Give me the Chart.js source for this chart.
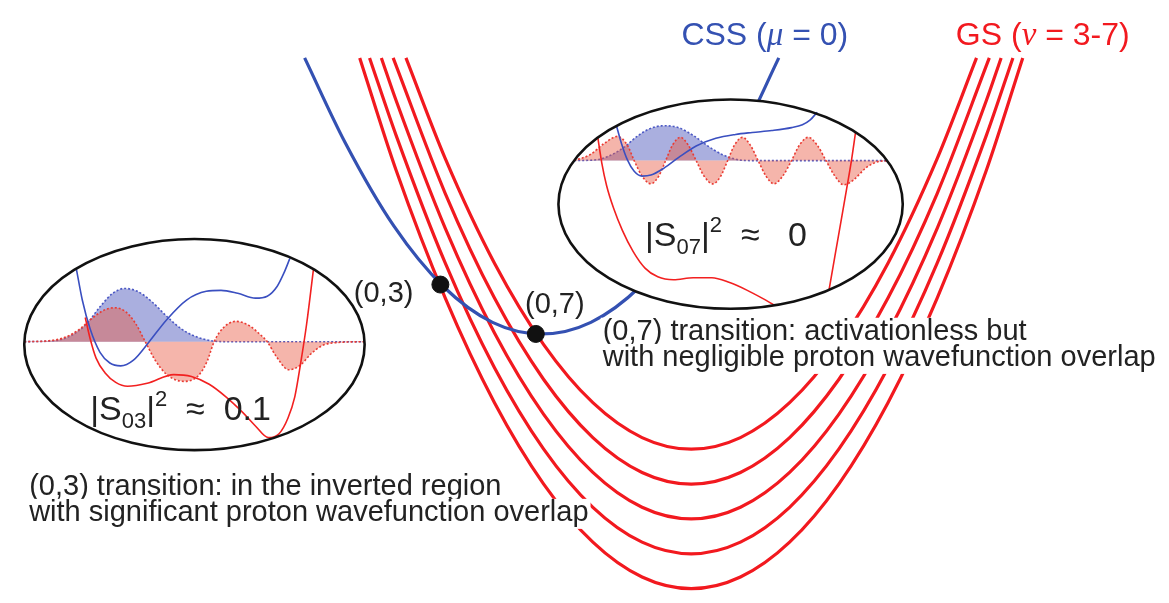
<!DOCTYPE html>
<html><head><meta charset="utf-8">
<script src="https://cdn.jsdelivr.net/npm/chart.js@4.4.1/dist/chart.umd.min.js"></script>
<style>html,body{margin:0;padding:0;background:#fff;overflow:hidden}canvas{display:block}</style>
</head><body>
<canvas id="c" width="1169" height="603"></canvas>
<script>
// ---------- data (diagram units) ----------
// GS diabatic curves, nu = 3 .. 7 (outer -> inner)
const gsV3 = [[356,50],[393,166],[443,298],[493,406],[543,490],[593,550],[643,586],[693,598],[743,586],[793,550],[843,490],[893,406],[943,298],[993,166],[1030,50]];
const gsV4 = [[366,50],[393,130],[443,262],[493,370],[543,454],[593,514],[643,550],[693,562],[743,550],[793,514],[843,454],[893,370],[943,262],[993,130],[1020,50]];
const gsV5 = [[378,50],[393,94],[443,226],[493,334],[543,418],[593,478],[643,514],[693,526],[743,514],[793,478],[843,418],[893,334],[943,226],[993,94],[1008,50]];
const gsV6 = [[390,50],[443,190],[493,298],[543,382],[593,442],[643,478],[693,490],[743,478],[793,442],[843,382],[893,298],[943,190],[996,50]];
const gsV7 = [[403,50],[443,154],[493,262],[543,346],[593,406],[643,442],[693,454],[743,442],[793,406],[843,346],[893,262],[943,154],[983,50]];
// CSS diabatic curve (mu = 0)
const cssMain = [[300,50],[341,137],[391,224],[441,286],[491,323],[541,335],[591,323],[641,286],[691,224],[741,137],[782,50]];
// crossing points
const crossings = [[438,284],[535,335]];
const crossLabels = ['(0,3)','(0,7)'];

// inset frames [cx, cy, rx, ry]
const insetFrames = [[188,346,173,109],[733,201,175,108]];
const leftBase = 343, rightBase = 156;

// left inset: (0,3) transition
const leftPsiCSS = [[15,343],[45,342],[62,337],[78,325],[92,307],[105,293],[117,288],[130,291],[145,302],[160,317],[175,330],[190,338],[205,342],[220,343],[361,343]];
const leftPsiGS = [[15,343],[40,342],[55,339],[70,331],[85,318],[97,310],[107,308],[118,312],[128,324],[138,343],[148,362],[160,377],[177,384],[192,378],[201,363],[208,343],[217,329],[230,322],[243,326],[253,334],[262,343],[271,358],[284,372],[296,367],[306,356],[318,347],[332,344],[361,343]];
const leftVCSS = [[68,268],[74,300],[82,330],[92,354],[102,365],[113,368],[126,362],[142,343],[160,320],[180,300],[200,291],[215,290],[232,293],[250,298],[262,296],[272,286],[279,272],[285,257]];
const leftVGS = [[77,318],[82,340],[88,360],[97,375],[108,385],[120,389],[140,386],[167,377],[185,379],[203,387],[220,400],[237,416],[250,430],[263,442],[274,438],[283,422],[290,400],[296,365],[302,325],[309,268]];

// right inset: (0,7) transition
const rightPsiCSS = [[574,156],[598,155],[612,150],[625,142],[638,131],[651,123],[665,120],[680,122],[695,130],[710,141],[725,150],[740,155],[755,156],[892,156]];
const rightPsiGS = [[574,156],[590,150],[605,138],[618,131],[628,140],[635,156],[643,172],[652,180],[660,172],[667,156],[674,140],[682,132],[690,140],[698,156],[706,172],[715,180],[723,172],[730,156],[737,140],[745,132],[753,140],[761,156],[769,172],[777,180],[786,172],[795,156],[803,140],[812,132],[821,140],[830,156],[839,172],[848,181],[858,176],[870,164],[880,158],[892,156]];
const rightVCSS = [[617,120],[622,138],[628,155],[635,167],[643,172],[652,171],[665,164],[680,153],[698,141],[718,133],[738,129],[755,127],[775,125],[795,122],[806,119],[814,114],[821,106]];
const rightVGSa = [[598,132],[602,158],[607,182],[614,205],[623,228],[634,250],[646,267],[659,276],[675,279],[695,277],[714,277],[732,282],[750,290],[765,298],[777,305]];
const rightVGSb = [[833,290],[839,255],[845,220],[851,185],[856,155],[860,127]];

// text
const cssTitle = ['CSS (', 'μ', ' = 0)'];
const gsTitle = ['GS (', 'ν', ' = 3-7)'];
const note07 = ['(0,7) transition: activationless but', 'with negligible proton wavefunction overlap'];
const note03 = ['(0,3) transition: in the inverted region', 'with significant proton wavefunction overlap'];
const overlap03 = ['|S', '03', '|', '2', '  ≈  0.1'];
const overlap07 = ['|S', '07', '|', '2', '  ≈   0'];

// ---------- styling ----------
const RED = '#f2191f', BLUE = '#3451b2', INK = '#222';
const SANS = '"Liberation Sans", Arial, Helvetica, sans-serif';
const SERIF = '"Liberation Serif", "Times New Roman", serif';

const toXY = a => a.map(([x, y]) => ({x, y}));
function curve(data, color, width, order, extra) {
  return Object.assign({
    data: toXY(data), showLine: true, borderColor: color, borderWidth: width,
    pointRadius: 0, pointHoverRadius: 0, fill: false,
    cubicInterpolationMode: 'monotone', order: order
  }, extra || {});
}

const datasets = [
  curve(gsV3, RED, 3.2, 100), curve(gsV4, RED, 3.2, 100), curve(gsV5, RED, 3.2, 100),
  curve(gsV6, RED, 3.2, 100), curve(gsV7, RED, 3.2, 100),
  curve(cssMain, BLUE, 3.2, 95),
  {data: toXY(crossings), showLine: false, pointRadius: 8.5, pointHoverRadius: 8.5,
   backgroundColor: '#111', borderColor: '#111', order: 90, drawFramesAfter: true},
  // left inset
  curve(leftPsiCSS, '#4b58c4', 1.6, 30, {borderDash: [2, 2], fill: {value: leftBase}, backgroundColor: 'rgba(85,96,192,0.5)'}),
  curve(leftPsiGS, '#ea3b33', 1.6, 29, {borderDash: [2, 2], fill: {value: leftBase}, backgroundColor: 'rgba(232,90,69,0.45)'}),
  curve(leftVCSS, '#3a4fc0', 1.6, 28),
  curve(leftVGS, '#f22020', 1.6, 27),
  // right inset
  curve(rightPsiCSS, '#4b58c4', 1.6, 30, {borderDash: [2, 2], fill: {value: rightBase}, backgroundColor: 'rgba(85,96,192,0.5)'}),
  curve(rightPsiGS, '#ea3b33', 1.6, 29, {borderDash: [2, 2], fill: {value: rightBase}, backgroundColor: 'rgba(232,90,69,0.45)'}),
  curve(rightVCSS, '#3a4fc0', 1.6, 28),
  curve(rightVGSa, '#f22020', 1.6, 27),
  curve(rightVGSb, '#f22020', 1.6, 27)
];

function framePath(chart, f) {
  const xs = chart.scales.x, ys = chart.scales.y, ctx = chart.ctx;
  const px = xs.getPixelForValue(f[0]), py = ys.getPixelForValue(f[1]);
  const rx = Math.abs(xs.getPixelForValue(f[0] + f[2]) - px);
  const ry = Math.abs(ys.getPixelForValue(f[1] + f[3]) - py);
  ctx.beginPath();
  ctx.ellipse(px, py, rx, ry, 0, 0, Math.PI * 2);
}

function drawRich(chart, parts, x, y, bg) {
  const ctx = chart.ctx;
  const X = chart.scales.x.getPixelForValue(x), Y = chart.scales.y.getPixelForValue(y);
  const w = parts.map(p => { ctx.font = p[1]; return ctx.measureText(p[0]).width; });
  const total = w.reduce((a, b) => a + b, 0);
  if (bg) { ctx.fillStyle = '#fff'; ctx.fillRect(X - 2, Y - 22, total + 4, 30); }
  let cx = X;
  parts.forEach((p, i) => {
    ctx.font = p[1]; ctx.fillStyle = p[2];
    ctx.fillText(p[0], cx, Y + (p[3] || 0));
    cx += w[i];
  });
}

const diagram = {
  id: 'diagram',
  afterDatasetDraw(chart, args) {
    if (!chart.data.datasets[args.index].drawFramesAfter) return;
    const ctx = chart.ctx;
    ctx.save();
    insetFrames.forEach(f => { framePath(chart, f); ctx.fillStyle = '#fff'; ctx.fill(); });
    ctx.restore();
  },
  afterDatasetsDraw(chart) {
    const ctx = chart.ctx;
    ctx.save();
    insetFrames.forEach(f => { framePath(chart, f); ctx.lineWidth = 2.6; ctx.strokeStyle = '#111'; ctx.stroke(); });
    ctx.textBaseline = 'alphabetic';
    const F = '29px ' + SANS;
    const T = '32px ' + SANS, TI = 'italic 33px ' + SERIF;
    drawRich(chart, [[cssTitle[0], T, BLUE], [cssTitle[1], TI, BLUE], [cssTitle[2], T, BLUE]], 683, 37);
    drawRich(chart, [[gsTitle[0], T, RED], [gsTitle[1], TI, RED], [gsTitle[2], T, RED]], 962, 37);
    drawRich(chart, [[crossLabels[0], F, INK]], 350, 302);
    drawRich(chart, [[crossLabels[1], F, INK]], 524, 313);
    drawRich(chart, [[note07[0], F, INK]], 603, 341, true);
    drawRich(chart, [[note07[1], F, INK]], 603, 368, true);
    drawRich(chart, [[note03[0], F, INK]], 20, 501, true);
    drawRich(chart, [[note03[1], F, INK]], 20, 528, true);
    const B = '34px ' + SANS, S = '22px ' + SANS;
    const rich = (t) => [[t[0], B, INK], [t[1], S, INK, 8], [t[2], B, INK], [t[3], S, INK, -14], [t[4], B, INK]];
    drawRich(chart, rich(overlap03), 82, 424);
    drawRich(chart, rich(overlap07), 646, 244);
    ctx.restore();
  }
};

new Chart(document.getElementById('c'), {
  type: 'scatter',
  data: {datasets},
  options: {
    responsive: false, animation: false, devicePixelRatio: 1,
    layout: {padding: 0},
    plugins: {legend: {display: false}, tooltip: {enabled: false}},
    events: [],
    scales: {
      x: {type: 'linear', min: 0, max: 1169, display: false},
      y: {type: 'linear', min: 0, max: 603, reverse: true, display: false}
    }
  },
  plugins: [diagram]
});
</script>
</body></html>
